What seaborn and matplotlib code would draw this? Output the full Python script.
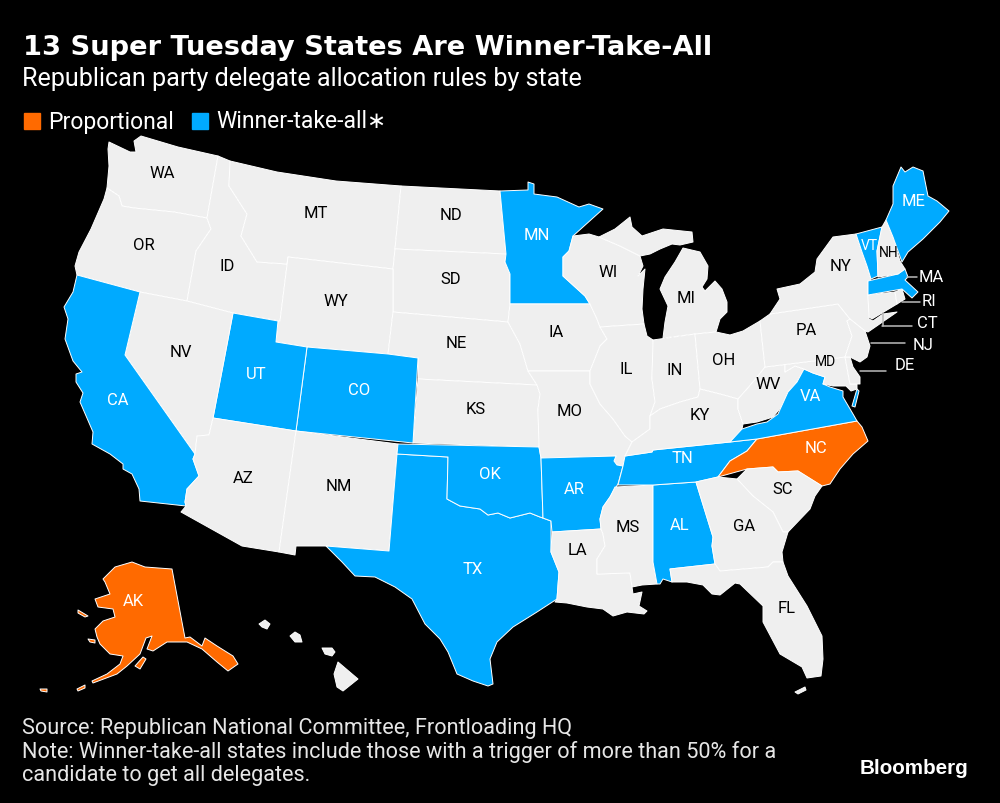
import matplotlib
matplotlib.use("Agg")
import matplotlib.pyplot as plt
import seaborn as sns

# ============================================================
# DATA
# ============================================================
rules = ["Proportional", "Winner-take-all"]
rule_colors = ["#FF6A00", "#00AAFF"]
land_color = "#EFEFEF"

proportional = ["AK", "NC"]
winner_take_all = ["AL", "AR", "CA", "CO", "ME", "MA", "MN", "OK", "TN", "TX", "UT", "VT", "VA"]

# state outlines, one list per ring
outlines = {
    "WA": [[(109,143),(130,153),(136,153),(134,142),(141,137),(178,148),(218,157),(207,219),(174,213),(134,209),(122,207),(119,197),(107,189),(109,167),(108,150)]],
    "OR": [[(107,189),(119,197),(122,207),(134,209),(174,213),(207,219),(211,230),(196,252),(187,302),(140,293),(77,276),(75,267),(79,253),(91,230),(104,200)]],
    "ID": [[(218,157),(230,162),(229,187),(247,215),(241,237),(257,263),(287,265),(288,258),(280,322),(233,314),(187,302),(196,252),(211,230),(207,219)]],
    "MT": [[(230,162),(277,173),(336,182),(401,187),(395,250),(393,270),(288,258),(287,265),(257,263),(241,237),(247,215),(229,187)]],
    "ND": [[(401,187),(500,192),(506,255),(395,250)]],
    "SD": [[(395,250),(506,255),(505,263),(510,275),(510,305),(508,323),(393,313),(393,270)]],
    "WY": [[(288,258),(393,270),(393,313),(388,355),(307,348),(276,343),(278,322),(280,322)]],
    "NE": [[(393,313),(508,323),(520,345),(528,372),(537,386),(418,380),(418,359),(388,355)]],
    "KS": [[(418,380),(537,386),(540,395),(538,410),(539,448),(413,444)]],
    "CO": [[(307,348),(388,355),(418,359),(413,444),(296,432)]],
    "UT": [[(233,314),(278,322),(276,343),(307,348),(296,432),(213,419)]],
    "NV": [[(140,293),(187,302),(233,314),(213,419),(209,436),(197,437),(195,455),(125,356)]],
    "CA": [[(77,276),(140,293),(125,356),(195,455),(193,460),(199,477),(187,490),(185,503),(186,507),(140,502),(139,490),(132,475),(123,470),(123,465),(110,455),(92,445),(93,433),(80,403),(83,394),(76,383),(76,375),(82,373),(73,362),(65,340),(68,320),(64,308),(73,293)]],
    "AZ": [[(197,437),(209,436),(213,419),(296,432),(279,553),(242,547),(181,513),(186,507),(185,503),(187,490),(199,477),(193,460),(195,455)]],
    "NM": [[(296,432),(398,445),(397,455),(389,552),(326,547),(296,547),(295,556),(279,553)]],
    "TX": [[(397,455),(448,458),(447,500),(460,507),(480,510),(488,516),(498,514),(510,519),(530,514),(540,518),(551,522),(551,553),(559,573),(557,600),(537,613),(513,628),(497,643),(490,660),(493,685),(488,687),(473,682),(457,675),(448,653),(440,640),(425,625),(412,600),(395,588),(375,578),(355,577),(342,563),(326,547),(389,552)]],
    "OK": [[(398,445),(539,448),(541,459),(543,519),(540,518),(530,514),(510,519),(498,514),(488,516),(480,510),(460,507),(447,500),(448,458),(397,455)]],
    "MN": [[(500,192),(528,191),(528,183),(534,185),(534,195),(557,198),(579,208),(589,205),(603,210),(573,237),(569,252),(563,258),(563,277),(585,297),(590,305),(510,305),(510,275),(505,263),(506,255)]],
    "IA": [[(510,305),(590,305),(597,320),(600,328),(607,340),(600,347),(590,372),(528,372),(520,345),(508,323)]],
    "MO": [[(528,372),(590,372),(590,385),(600,405),(613,420),(625,437),(632,443),(625,457),(623,467),(617,466),(614,462),(616,457),(541,459),(539,448),(538,410),(540,395),(537,386)]],
    "AR": [[(541,459),(616,457),(614,462),(617,466),(623,467),(618,485),(610,498),(603,508),(600,520),(601,530),(552,533),(551,522),(543,519)]],
    "LA": [[(552,533),(601,530),(603,535),(605,547),(597,560),(597,575),(630,574),(632,588),(633,595),(642,593),(639,607),(647,612),(644,615),(627,613),(613,617),(603,610),(587,608),(567,604),(555,603),(557,600),(559,573),(551,553)]],
    "MS": [[(615,488),(653,486),(653,563),(657,585),(642,586),(632,588),(630,574),(597,575),(597,560),(605,547),(603,535),(601,530),(600,520),(603,508),(610,498)]],
    "AL": [[(653,486),(696,483),(713,538),(712,547),(715,565),(670,570),(672,583),(663,580),(660,585),(657,585),(653,563)]],
    "TN": [[(618,486),(623,467),(625,457),(652,453),(653,451),(730,443),(757,440),(747,452),(730,462),(718,478),(696,483),(653,486)]],
    "NC": [[(757,440),(857,422),(862,428),(868,442),(853,455),(840,470),(830,485),(822,487),(798,472),(778,473),(773,468),(747,470),(718,478),(730,462),(747,452)]],
    "SC": [[(737,480),(747,470),(773,468),(778,473),(798,472),(822,487),(815,497),(810,510),(788,533),(783,533),(773,513),(753,497)]],
    "GA": [[(696,483),(718,478),(737,480),(753,497),(773,513),(783,533),(788,533),(782,553),(783,563),(773,563),(768,568),(720,572),(715,565),(712,547),(713,538)]],
    "FL": [[(670,570),(715,565),(720,572),(768,568),(773,563),(783,563),(788,577),(807,607),(822,637),(823,660),(821,677),(807,679),(802,668),(780,655),(763,623),(763,607),(740,585),(735,584),(720,596),(712,595),(703,586),(687,583),(672,583)],
           [(795,693),(805,688),(806,691),(798,695)]],
    "WI": [[(573,237),(589,235),(599,238),(620,247),(640,257),(643,267),(638,277),(645,270),(643,290),(642,310),(644,325),(600,328),(597,320),(590,305),(585,297),(563,277),(563,258),(569,252)]],
    "MI": [[(599,238),(615,230),(630,218),(632,228),(642,237),(663,230),(692,233),(693,243),(680,246),(672,245),(660,250),(650,255),(640,257),(620,247)],
           [(683,249),(700,253),(708,267),(707,280),(702,288),(705,292),(715,282),(722,290),(727,303),(727,313),(720,320),(716,333),(695,335),(663,339),(665,323),(668,307),(660,290),(665,278),(675,263)]],
    "IL": [[(600,328),(644,325),(647,337),(653,341),(652,380),(655,403),(650,417),(650,430),(632,443),(625,437),(613,420),(600,405),(590,385),(590,372),(600,347),(607,340)]],
    "IN": [[(653,341),(695,335),(700,390),(698,398),(680,403),(660,410),(650,417),(655,403),(652,380)]],
    "OH": [[(695,335),(716,333),(730,336),(743,332),(760,322),(765,368),(758,377),(747,390),(738,400),(720,395),(700,390)]],
    "KY": [[(625,457),(632,443),(650,430),(650,417),(660,410),(680,403),(698,398),(700,390),(720,395),(738,400),(738,410),(743,425),(742,430),(730,443),(653,451),(652,453)]],
    "WV": [[(765,368),(785,365.5),(785,373),(795,367),(804,370),(797,383),(788,393),(782,407),(773,418),(757,423),(743,425),(738,410),(738,400),(747,390),(758,377)]],
    "VA": [[(742,430),(757,425),(767,423),(778,415),(788,393),(797,383),(804,370),(813,374),(825,378),(823,385),(830,388),(843,392),(843,398),(853,415),(857,422),(757,440),(730,443)],
           [(852,407),(857,390),(859,392),(855,408)]],
    "MD": [[(785,365.5),(845,358),(850,385),(857,385),(857,390),(851,392),(846,387),(833,387),(823,385),(825,378),(813,374),(804,370),(795,367),(785,373)]],
    "DE": [[(845,358),(850,358),(853,368),(860,378),(860,385),(850,385)]],
    "PA": [[(760,322),(770,315),(838,305),(850,320),(847,322),(852,337),(845,358),(765,368)]],
    "NY": [[(838,305),(770,315),(780,300),(777,290),(800,285),(815,273),(817,260),(833,238),(856,235),(862,253),(867,267),(871,280),(868,282),(868,296),(869,320),(873,322),(883,315),(897,313),(868,333),(865,332),(850,320)]],
    "NJ": [[(847,322),(850,320),(865,332),(870,347),(867,358),(860,363),(850,358),(845,358),(852,337)]],
    "CT": [[(868,296),(895,293),(897,305),(872,320),(869,318)]],
    "RI": [[(895,293),(902,290),(905,300),(897,305)]],
    "MA": [[(868,282),(898,275),(905,270),(908,278),(905,281),(918,293),(912,299),(902,290),(868,296)]],
    "VT": [[(856,235),(882,228),(877,252),(878,277),(871,280),(867,267),(862,253)]],
    "NH": [[(882,228),(886,221),(893,238),(900,262),(905,270),(898,275),(878,278),(877,252)]],
    "ME": [[(886,221),(893,205),(893,187),(901,168),(905,173),(913,168),(923,172),(928,197),(937,202),(949,212),(940,223),(923,240),(908,253),(902,263),(893,238)]],
    "AK": [[(103,580),(115,568),(132,563),(145,568),(172,570),(185,639),(190,638),(202,647),(205,639),(217,647),(233,657),(238,665),(228,672),(217,663),(202,650),(187,643),(167,643),(153,652),(147,650),(152,637),(146,639),(140,655),(127,667),(117,675),(93,684),(92,682),(107,675),(120,665),(123,657),(110,655),(100,645),(97,638),(95,630),(103,622),(115,618),(113,610),(98,608),(95,600),(110,595),(105,583)],
           [(135,667),(143,658),(146,660),(140,670)],
           [(78,611),(88,617),(85,618),(78,614)],
           [(88,640),(95,641),(95,644),(90,643)],
           [(77,690),(85,686),(85,689),(78,692)],
           [(40,690),(47,690),(47,693),(41,692)]],
    "HI": [[(259,625),(265,621),(270,625),(267,630),(262,628)],
           [(290,637),(295,633),(300,636),(302,643),(295,643)],
           [(322,649),(332,649),(335,653),(332,657),(325,655)],
           [(338,663),(358,680),(343,692),(337,688),(334,675)]],
}

# labels inside the states
state_labels = {
    "WA": (162,173), "OR": (144,246), "ID": (227,267), "MT": (316,213), "ND": (451,216),
    "SD": (451,280), "WY": (336,302), "NE": (456,344), "NV": (181,353), "CA": (118,401),
    "UT": (256,375), "CO": (359,391), "AZ": (243,479), "NM": (339,487), "KS": (476,410),
    "OK": (490,475), "TX": (473,570), "MN": (537,235), "IA": (556,333), "MO": (570,412),
    "AR": (574,490), "LA": (577,551), "WI": (608,273), "IL": (626,370), "IN": (675,371),
    "OH": (724,361), "MI": (686,299), "KY": (700,416), "TN": (682,459), "MS": (628,528),
    "AL": (680,526), "GA": (744,527), "FL": (787,609), "SC": (783,490), "NC": (816,449),
    "VA": (810,397), "WV": (768,385), "PA": (806,331), "NY": (841,267), "MD": (826,362),
    "VT": (869,246), "NH": (889,253), "ME": (914,202), "AK": (133,602),
}

# these labels sit in tight spots and need a smaller size
tight_labels = ["VT", "NH", "MD"]

# small states labelled off the coast: label position, leader start, leader end
callouts = {
    "MA": ((931,278), (907,278), (917,278)),
    "RI": ((929,302), (902,303), (920,303)),
    "CT": ((927,324), (882,327), (912,327)),
    "NJ": ((923,346), (871,344), (905,344)),
    "DE": ((905,366), (860,372), (886,372)),
}

title = "13 Super Tuesday States Are Winner-Take-All"
subtitle = "Republican party delegate allocation rules by state"
source_lines = [
    "Source: Republican National Committee, Frontloading HQ",
    "Note: Winner-take-all states include those with a trigger of more than 50% for a",
    "candidate to get all delegates.",
]

# ============================================================
# STYLE
# ============================================================
sns.set_theme(style="dark", rc={"figure.facecolor": "black", "axes.facecolor": "black"})
palette = dict(zip(rules, sns.color_palette(rule_colors)))


def state_color(abbr):
    if abbr in proportional:
        return palette["Proportional"]
    if abbr in winner_take_all:
        return palette["Winner-take-all"]
    return land_color


# ============================================================
# MAP
# ============================================================
fig = plt.figure(figsize=(10, 8.04), dpi=100)
ax = fig.add_axes([0, 0, 1, 1])
ax.set_xlim(0, 1000)
ax.set_ylim(804, 0)
ax.axis("off")

for abbr, rings in outlines.items():
    for ring in rings:
        xs, ys = zip(*ring)
        ax.fill(xs, ys, facecolor=state_color(abbr), edgecolor="white",
                linewidth=0.7, joinstyle="round", zorder=2)

for abbr, (x, y) in state_labels.items():
    colored = abbr in proportional or abbr in winner_take_all
    size = 10 if abbr in tight_labels else 12
    ax.text(x, y, abbr, color="white" if colored else "black", fontsize=size,
            family="Roboto", ha="center", va="center", zorder=4)

for abbr, (pos, start, end) in callouts.items():
    ax.plot([start[0], end[0]], [start[1], end[1]], color="#BBBBBB", lw=1.1, zorder=3)
    ax.text(pos[0], pos[1], abbr, color="white", fontsize=12, family="Roboto",
            ha="center", va="center", zorder=4)
ax.plot([883, 883], [314, 327], color="#BBBBBB", lw=1.1, zorder=3)

# ============================================================
# TEXT AND LEGEND
# ============================================================
ax.text(23, 48, title, color="white", fontsize=19.6, fontweight="bold",
        family="DejaVu Sans", va="center")
ax.text(22, 79, subtitle, color="white", fontsize=18.1, family="Roboto", va="center")

ax.add_patch(plt.Rectangle((24, 114), 16, 16, color=palette["Proportional"]))
ax.text(48, 122, "Proportional", color="white", fontsize=16.5, family="Roboto", va="center")
ax.add_patch(plt.Rectangle((192, 114), 16, 16, color=palette["Winner-take-all"]))
ax.text(216, 122, "Winner-take-all\u2217", color="white", fontsize=16.5,
        family=["Roboto", "DejaVu Sans"], va="center")

for y, line in zip([729, 752, 776], source_lines):
    ax.text(22, y, line, color="#E6E6E6", fontsize=15.6, family="Roboto", va="center")

ax.text(860, 769, "Bloomberg", color="white", fontsize=14.9, fontweight="bold",
        family="Liberation Sans", va="center")

fig.savefig("out.png", dpi=100, facecolor="black")
